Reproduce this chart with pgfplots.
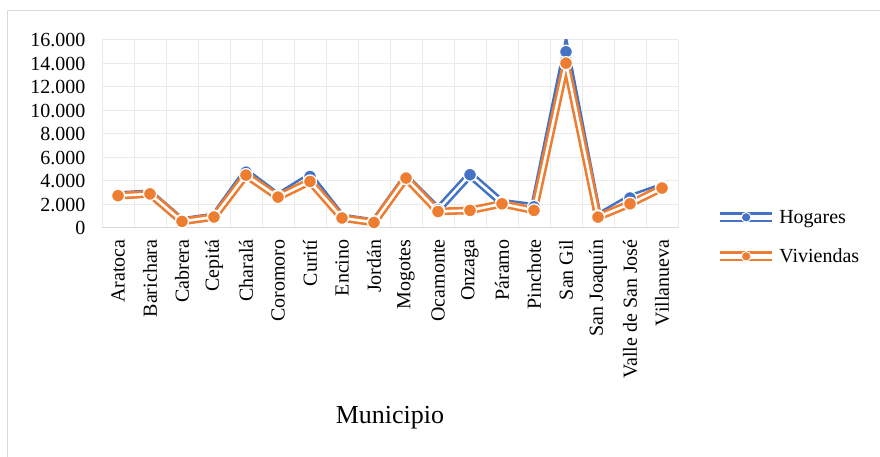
\documentclass[border=0pt]{standalone}
\usepackage{fontspec}
\setmainfont{Liberation Serif}
\usepackage{pgfplots}
\pgfplotsset{compat=1.18}
\usepackage{pgfplotstable}
\definecolor{hblue}{HTML}{4472C4}
\definecolor{vorange}{HTML}{ED7D31}
\definecolor{gridc}{HTML}{EAEAEA}
\definecolor{axisc}{HTML}{D9D9D9}

\pgfplotstableread{
x H V
0 2800 2750
1 2950 2900
2 600 560
3 980 935
4 4750 4500
5 2700 2630
6 4380 3960
7 900 850
8 500 470
9 4300 4250
10 1550 1400
11 4530 1500
12 2150 2060
13 1800 1500
14 15000 14030
15 980 930
16 2550 2060
17 3500 3400
}\data

\begin{document}
\begin{tikzpicture}
\useasboundingbox (0,0) rectangle (880pt,457pt);
\draw[axisc, line width=1.5pt] (7.5pt,0) -- (7.5pt,446.5pt) -- (881pt,446.5pt);
\begin{axis}[
  at={(102pt,229pt)}, anchor=south west,
  scale only axis, width=576pt, height=188pt,
  xmin=-0.5, xmax=17.5, ymin=0, ymax=16000,
  axis x line*=bottom, axis y line*=left,
  x axis line style={draw=axisc, line width=1pt},
  y axis line style={draw=none},
  xtick={0,...,17},
  xticklabels={Aratoca,Barichara,Cabrera,Cepitá,Charalá,Coromoro,Curití,Encino,Jordán,Mogotes,Ocamonte,Onzaga,Páramo,Pinchote,San Gil,San Joaquín,Valle de San José,Villanueva},
  minor xtick={-0.5,0.5,...,17.5},
  ytick={0,2000,4000,6000,8000,10000,12000,14000,16000},
  yticklabels={0,2.000,4.000,6.000,8.000,10.000,12.000,14.000,16.000},
  scaled y ticks=false,
  xminorgrids, ymajorgrids,
  minor grid style={draw=gridc, line width=1pt},
  major grid style={draw=gridc, line width=1pt},
  major tick length=0pt, minor tick length=0pt,
  tick style={draw=none},
  ticklabel style={font=\fontsize{20}{24}\selectfont, text=black},
  yticklabel style={anchor=east, xshift=-13pt},
  xticklabel style={rotate=90, anchor=east, xshift=-8pt},
  xlabel={Municipio},
  xlabel style={font=\fontsize{26}{30}\selectfont, at={(axis description cs:0.5,0)}, anchor=center, yshift=-190pt},
  legend style={at={(axis description cs:1.064,-0.048)}, anchor=west, draw=none, fill=none,
    font=\fontsize{20}{24}\selectfont, row sep=20pt, inner sep=0pt},
  legend cell align=left,
]
\addlegendimage{hblue, legend image code/.code={
  \draw[hblue, line width=2.6pt, double=white, double distance=5pt] (0pt,0pt) -- (52pt,0pt);
  \filldraw[fill=hblue, draw=white, line width=1pt] (26pt,0pt) circle (4.8pt);}}
\addlegendentry{Hogares}
\addlegendimage{vorange, legend image code/.code={
  \draw[vorange, line width=2.6pt, double=white, double distance=5pt] (0pt,0pt) -- (52pt,0pt);
  \filldraw[fill=vorange, draw=white, line width=1pt] (26pt,0pt) circle (4.8pt);}}
\addlegendentry{Viviendas}

\addplot[hblue, line width=2.6pt, double=white, double distance=2.6pt, forget plot] table[x=x,y=H]{\data};
\addplot[only marks, mark=*, mark size=6.5pt, mark options={fill=hblue, draw=white, line width=1.3pt}, forget plot] table[x=x,y=H]{\data};
\addplot[vorange, line width=2.6pt, double=white, double distance=2.6pt, forget plot] table[x=x,y=V]{\data};
\addplot[only marks, mark=*, mark size=6.5pt, mark options={fill=vorange, draw=white, line width=1.3pt}, forget plot] table[x=x,y=V]{\data};
\end{axis}
\end{tikzpicture}
\end{document}
